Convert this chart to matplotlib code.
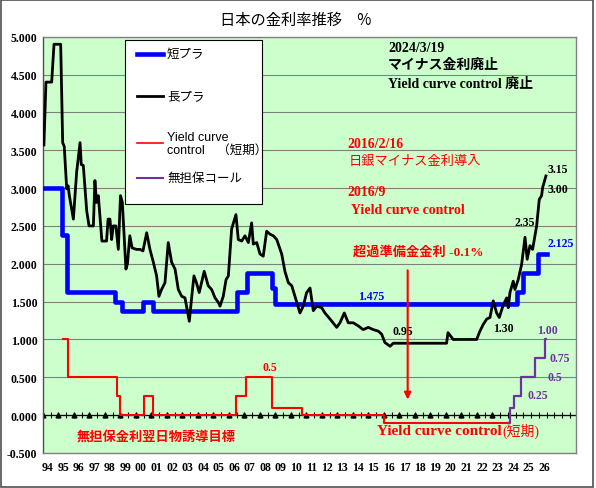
import numpy as np
import matplotlib.pyplot as plt
from matplotlib.patches import Rectangle
from matplotlib.lines import Line2D

plt.rcParams['font.family'] = ['Liberation Serif', 'Noto Sans CJK JP']

# 長プラ (long-term prime rate)
long_years = [1994.06, 1994.19, 1994.56, 1994.71, 1995.14, 1995.27, 1995.37, 1995.53, 1995.62, 1995.70,
              1995.96, 1996.17, 1996.39, 1996.47, 1996.60, 1996.82, 1996.97, 1997.25, 1997.35, 1997.45,
              1997.57, 1997.80, 1998.10, 1998.20, 1998.32, 1998.43, 1998.53, 1998.70, 1998.86, 1999.00,
              1999.12, 1999.35, 1999.45, 1999.60, 1999.75, 2000.03, 2000.26, 2000.45, 2000.69, 2000.90,
              2001.12, 2001.33, 2001.48, 2001.65, 2001.87, 2002.08, 2002.30, 2002.52, 2002.73, 2002.95,
              2003.16, 2003.44, 2003.60, 2003.74, 2003.90, 2004.08, 2004.40, 2004.66, 2004.88, 2005.10,
              2005.31, 2005.42, 2005.63, 2005.81, 2005.96, 2006.17, 2006.45, 2006.60, 2006.82, 2007.03,
              2007.25, 2007.46, 2007.57, 2007.79, 2008.00, 2008.21, 2008.43, 2008.65, 2008.86, 2009.08,
              2009.40, 2009.61, 2009.83, 2010.05, 2010.37, 2010.58, 2010.79, 2011.01, 2011.23, 2011.44,
              2011.66, 2011.98, 2012.19, 2012.52, 2012.95, 2013.16, 2013.44, 2013.70, 2014.02, 2014.34,
              2014.66, 2014.99, 2015.31, 2015.63, 2015.85, 2016.06, 2016.39, 2016.60, 2020.04, 2020.13,
              2020.47, 2021.98, 2022.19, 2022.41, 2022.63, 2022.84, 2023.05, 2023.27, 2023.44, 2023.70,
              2023.92, 2024.02, 2024.13, 2024.34, 2024.45, 2024.66, 2024.88, 2025.10, 2025.24, 2025.42,
              2025.59, 2025.85, 2026.02, 2026.17, 2026.24, 2026.45]
long_rate = [3.57, 4.40, 4.40, 4.90, 4.90, 3.60, 3.55, 2.99, 3.03, 2.90,
             2.59, 3.21, 3.60, 3.31, 3.30, 2.70, 2.50, 2.50, 3.10, 2.81,
             2.90, 2.30, 2.30, 2.59, 2.59, 2.32, 2.50, 2.50, 2.19, 2.90,
             2.81, 1.93, 2.00, 2.37, 2.21, 2.19, 2.19, 2.17, 2.41, 2.19,
             2.02, 1.84, 1.57, 1.66, 1.75, 2.28, 2.02, 1.93, 1.66, 1.57,
             1.55, 1.24, 1.57, 1.84, 1.75, 1.62, 1.90, 1.71, 1.66, 1.55,
             1.49, 1.44, 1.57, 1.79, 1.84, 2.46, 2.65, 2.32, 2.30, 2.37,
             2.28, 2.54, 2.26, 2.28, 2.13, 2.10, 2.43, 2.39, 2.37, 2.32,
             2.13, 1.90, 1.75, 1.71, 1.49, 1.35, 1.44, 1.62, 1.68, 1.38,
             1.44, 1.42, 1.35, 1.27, 1.16, 1.22, 1.35, 1.22, 1.22, 1.18,
             1.13, 1.16, 1.13, 1.11, 1.07, 0.96, 0.91, 0.95, 0.95, 1.09,
             1.00, 1.00, 1.11, 1.20, 1.27, 1.29, 1.51, 1.35, 1.29, 1.46,
             1.55, 1.42, 1.62, 1.77, 1.66, 1.79, 1.99, 2.35, 2.06, 2.24,
             2.19, 2.50, 2.85, 2.90, 3.01, 3.16]

# 短プラ (short-term prime rate), step changes
short_years = [1994.06, 1995.25, 1995.55, 1998.65, 1999.08, 2000.47, 2001.12, 2006.50,
               2007.14, 2008.75, 2008.97, 2024.56, 2024.99, 2025.95, 2026.50]
short_rate = [3.000, 2.375, 1.625, 1.500, 1.375, 1.500, 1.375, 1.625,
              1.875, 1.675, 1.475, 1.625, 1.875, 2.125, 2.125]

# 無担保金利翌日物誘導目標 / Yield curve control (短期)
call_years = [1995.31, 1995.63, 1998.75, 1999.00, 2000.52, 2001.12, 2006.45, 2007.08,
              2008.80, 2010.70, 2016.00, 2024.02]
call_target = [1.00, 0.50, 0.25, 0.00, 0.25, 0.00, 0.25, 0.50,
               0.10, 0.00, -0.10, -0.10]

# 無担保コール
mutan_years = [2024.02, 2024.10, 2024.39, 2024.84, 2025.77, 2026.42, 2026.46]
mutan_rate = [-0.10, 0.10, 0.25, 0.50, 0.75, 1.00, 1.00]

marker_years = list(range(1994, 2024))
tick_years = list(range(1994, 2027))
tick_labels = [f'{y % 100:02d}' for y in tick_years]
y_ticks = [-0.5, 0.0, 0.5, 1.0, 1.5, 2.0, 2.5, 3.0, 3.5, 4.0, 4.5, 5.0]

W, H = 596, 489
fig = plt.figure(figsize=(W / 100, H / 100), dpi=100)


def fx(px):
    return px / W


def fy(py):
    return 1 - py / H


ax = fig.add_axes([fx(43), fy(454), fx(576) - fx(43), fy(37.7) - fy(454)])
ax.set_facecolor('#CCFFCC')
ax.set_xlim(1994, 2028.39)
ax.set_ylim(-0.5, 5.0)

ax.set_yticks(y_ticks)
ax.set_yticklabels([f'{v:.3f}' for v in y_ticks], fontweight='bold', fontsize=8.5)
ax.set_xticks([y + 0.32 for y in tick_years])
ax.set_xticklabels(tick_labels, fontweight='bold', fontsize=8.5)
ax.tick_params(axis='y', length=0, pad=4)
ax.tick_params(axis='x', length=0, pad=6)
ax.grid(axis='y', color='#808080', lw=0.8)
ax.set_axisbelow(True)
for s in ax.spines.values():
    s.set_color('#808080')
    s.set_linewidth(1)
ax.spines['left'].set_color('#505050')

# zero axis with ticks and triangles
ax.axhline(0, color='black', lw=0.9, zorder=2)
half_years = np.arange(1994, 2028.4, 0.5)
ax.plot(half_years, np.zeros(len(half_years)), '|', color='black', ms=4, mew=0.8, zorder=2)
ax.plot(marker_years, np.zeros(len(marker_years)), '^', color='black', ms=3.5, zorder=2)

# series
ax.plot(short_years, short_rate, drawstyle='steps-post', color='#0000FF', lw=3.3, zorder=3)
ax.plot(long_years, long_rate, color='black', lw=2.0, zorder=4)
ax.plot(call_years, call_target, drawstyle='steps-post', color='#FF0000', lw=1.5, zorder=5)
ax.plot(mutan_years, mutan_rate, drawstyle='steps-post', color='#7030A0', lw=1.6, zorder=5)

# annotations
serif_b = dict(fontweight='bold', family=['Liberation Serif', 'Noto Sans CJK JP'], va='center')
gothic = dict(family=['Noto Sans CJK JP'], va='center')

ax.text(2016.26, 4.86, '2024/3/19', fontsize=10, color='black', **serif_b)
ax.text(2016.26, 4.64, 'マイナス金利廃止', fontsize=10, color='black', fontweight='bold', **gothic)
ax.text(2016.26, 4.38, 'Yield curve control 廃止', fontsize=10, color='black', **serif_b)

ax.text(2013.61, 3.59, '2016/2/16', fontsize=10, color='red', **serif_b)
ax.text(2013.74, 3.37, '日銀マイナス金利導入', fontsize=9.5, color='red', **gothic)
ax.text(2013.61, 2.95, '2016/9', fontsize=10, color='red', **serif_b)
ax.text(2013.87, 2.72, 'Yield curve control', fontsize=10, color='red', **serif_b)
ax.text(2014.0, 2.17, '超過準備金金利 -0.1%', fontsize=9.5, color='red', **serif_b)

ax.annotate('', xy=(2017.53, 0.17), xytext=(2017.53, 1.95),
            arrowprops=dict(arrowstyle='-|>', color='red', lw=1.5, mutation_scale=10), zorder=6)

ax.text(2026.58, 3.25, '3.15', fontsize=8.5, color='black', **serif_b)
ax.text(2026.58, 2.99, '3.00', fontsize=8.5, color='black', **serif_b)
ax.text(2024.45, 2.55, '2.35', fontsize=8.5, color='black', **serif_b)
ax.text(2026.58, 2.27, '2.125', fontsize=8.5, color='#0000FF', **serif_b)
ax.text(2015.16, 1.58, '1.475', fontsize=8.5, color='#0000FF', ha='center', **serif_b)
ax.text(2016.52, 1.11, '0.95', fontsize=8.5, color='black', **serif_b)
ax.text(2023.03, 1.15, '1.30', fontsize=8.5, color='black', **serif_b)
ax.text(2025.87, 1.13, '1.00', fontsize=8.5, color='#7030A0', **serif_b)
ax.text(2026.71, 0.76, '0.75', fontsize=8.5, color='#7030A0', **serif_b)
ax.text(2026.58, 0.50, '0.5', fontsize=8.5, color='#7030A0', **serif_b)
ax.text(2025.23, 0.26, '0.25', fontsize=8.5, color='#7030A0', **serif_b)
ax.text(2008.19, 0.64, '0.5', fontsize=8.5, color='red', **serif_b)

ax.text(1996.19, -0.27, '無担保金利翌日物誘導目標', fontsize=9.5, color='red', fontweight='bold', **gothic)
ax.text(2015.55, -0.20, 'Yield curve control', fontsize=11, color='red', **serif_b)
ax.text(2023.65, -0.20, '(短期)', fontsize=10, color='red', va='center',
        family=['Liberation Serif', 'Noto Sans CJK JP'])

# legend box
fig.add_artist(Rectangle((fx(125), fy(205)), fx(262) - fx(125), fy(41) - fy(205),
                         transform=fig.transFigure, facecolor='white', edgecolor='black',
                         lw=0.8, zorder=10))
legend_items = [
    ('短プラ', '#0000FF', 3.3, 55),
    ('長プラ', 'black', 2.0, 97),
    ('Yield curve\ncontrol　（短期）', '#FF0000', 1.2, 144),
    ('無担保コール', '#7030A0', 1.5, 179),
]
for label, color, lw, py in legend_items:
    fig.add_artist(Line2D([fx(137), fx(163)], [fy(py), fy(py)], transform=fig.transFigure,
                          color=color, lw=lw, zorder=11))
    fig.text(fx(167), fy(py), label, fontsize=9, va='center', ha='left', zorder=11,
             family=['Liberation Sans', 'Noto Sans CJK JP'], linespacing=1.1)

# title
fig.text(fx(296), fy(20), '日本の金利率推移　%', ha='center', va='center', fontsize=11,
         family=['Noto Sans CJK JP'])

# outer frame
fig.add_artist(Rectangle((fx(1), fy(487.5)), fx(593) - fx(1), fy(0.5) - fy(487.5),
                         transform=fig.transFigure, facecolor='none', edgecolor='#505050',
                         lw=1.2, zorder=12))

fig.savefig('out.png', dpi=100)
